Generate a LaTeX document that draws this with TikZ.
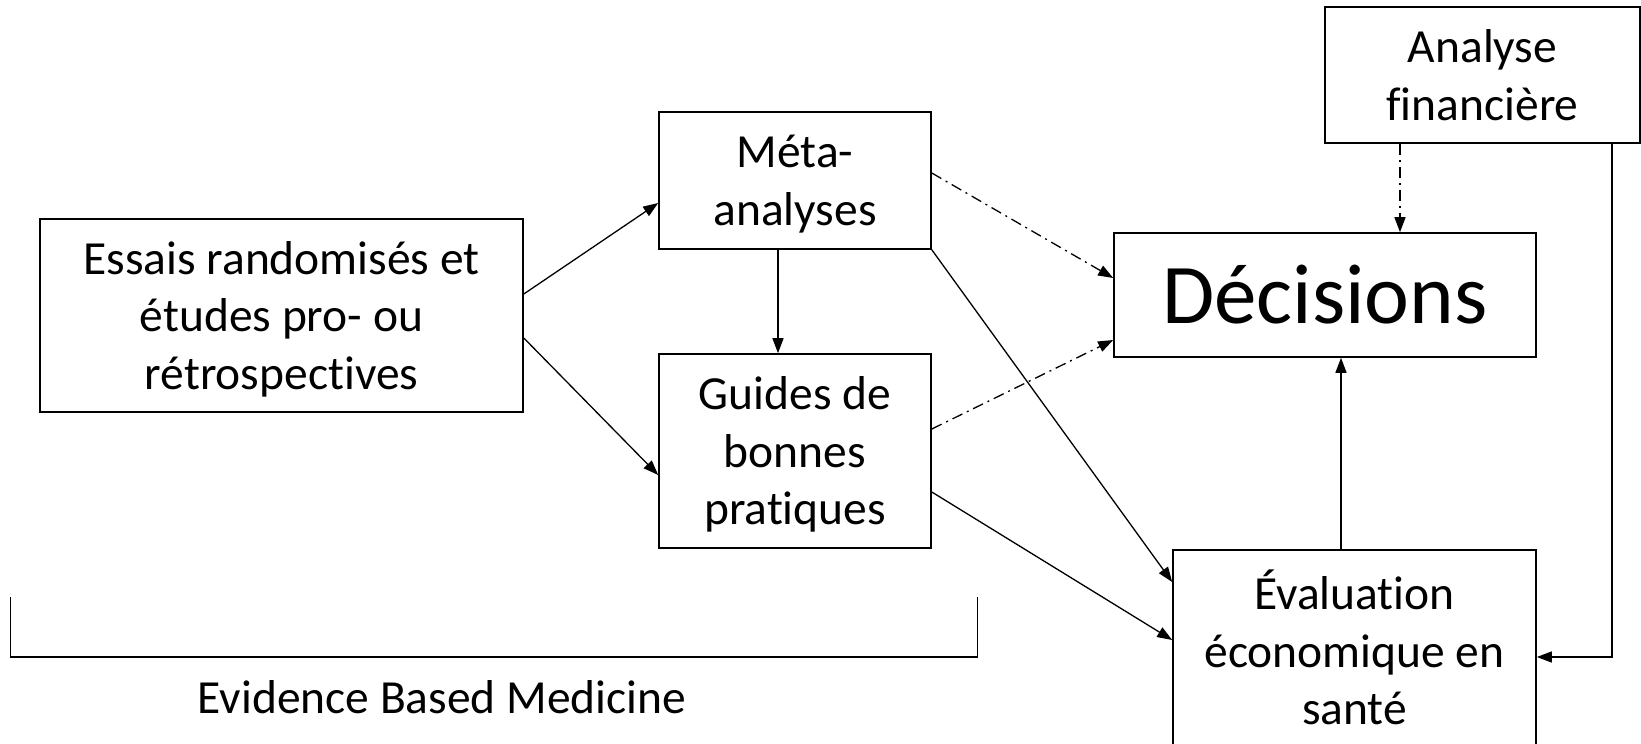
\documentclass[tikz,border=0pt]{standalone}
\usepackage{fontspec}
\setmainfont{Carlito}[Ligatures=NoCommon]
\usetikzlibrary{arrows.meta,calc}
\begin{document}
\begin{tikzpicture}[x=1pt,y=-1pt,
  box/.style={draw,line width=1.6pt,rectangle,inner sep=0pt,align=center,
    font=\fontsize{47.5}{57.6}\selectfont},
  txtb/.style={text height=102.8pt,text depth=12.8pt},
  txtc/.style={text height=160.4pt,text depth=12.8pt},
  arr/.style={line width=1.3pt,-{Triangle[length=15pt,width=11pt]}},
  dd/.style={arr,dash pattern=on 11pt off 5pt on 2pt off 5pt}]
\useasboundingbox (0,0) rectangle (1641,744);
\node[box,txtc,minimum width=483pt,minimum height=193pt] (ess) at (281.5,315.5)
  {Essais randomisés et\\études pro- ou\\rétrospectives};
\node[box,txtb,minimum width=272pt,minimum height=137pt] (met) at (795,180.5)
  {Méta-\\analyses};
\node[box,txtc,minimum width=272pt,minimum height=194pt] (gui) at (795,451)
  {Guides de\\bonnes\\pratiques};
\node[box,minimum width=422pt,minimum height=124pt,font=\fontsize{85}{100}\selectfont] (dec) at (1325,295)
  {Décisions};
\node[box,txtb,minimum width=315pt,minimum height=136pt] (ana) at (1482.5,75)
  {Analyse\\financière};
\node[box,txtc,minimum width=363pt,minimum height=202pt] (eva) at (1354.5,651)
  {Évaluation\\économique en\\santé};
\coordinate (bl) at (10.5,597);
\coordinate (br) at (977.5,597);
\node[font=\fontsize{47.5}{57.6}\selectfont,inner sep=0pt] (ebm) at (442,697) {Evidence Based Medicine};

\draw[arr] (ess.east |- 0,294) -- (met.west |- 0,203);
\draw[arr] (ess.east |- 0,338) -- (gui.west |- 0,475);
\draw[arr] (met.south -| 778,0) -- (gui.north -| 778,0);
\draw[dd] (met.east |- 0,173) -- (dec.west |- 0,278);
\draw[dd] (gui.east |- 0,429) -- (dec.west |- 0,340);
\draw[arr] (met.south east) -- (eva.west |- 0,582);
\draw[arr] (gui.east |- 0,492) -- (eva.west |- 0,640);
\draw[dd] (ana.south -| 1400,0) -- (dec.north -| 1400,0);
\draw[arr] (eva.north -| 1341,0) -- (dec.south -| 1341,0);
\draw[arr] (ana.south -| 1612,0) -- (1612,657) -- (eva.east |- 0,657);
\draw[line width=1.3pt] (bl) -- (bl |- 0,657) -- (br |- 0,657) -- (br);
\end{tikzpicture}
\end{document}
